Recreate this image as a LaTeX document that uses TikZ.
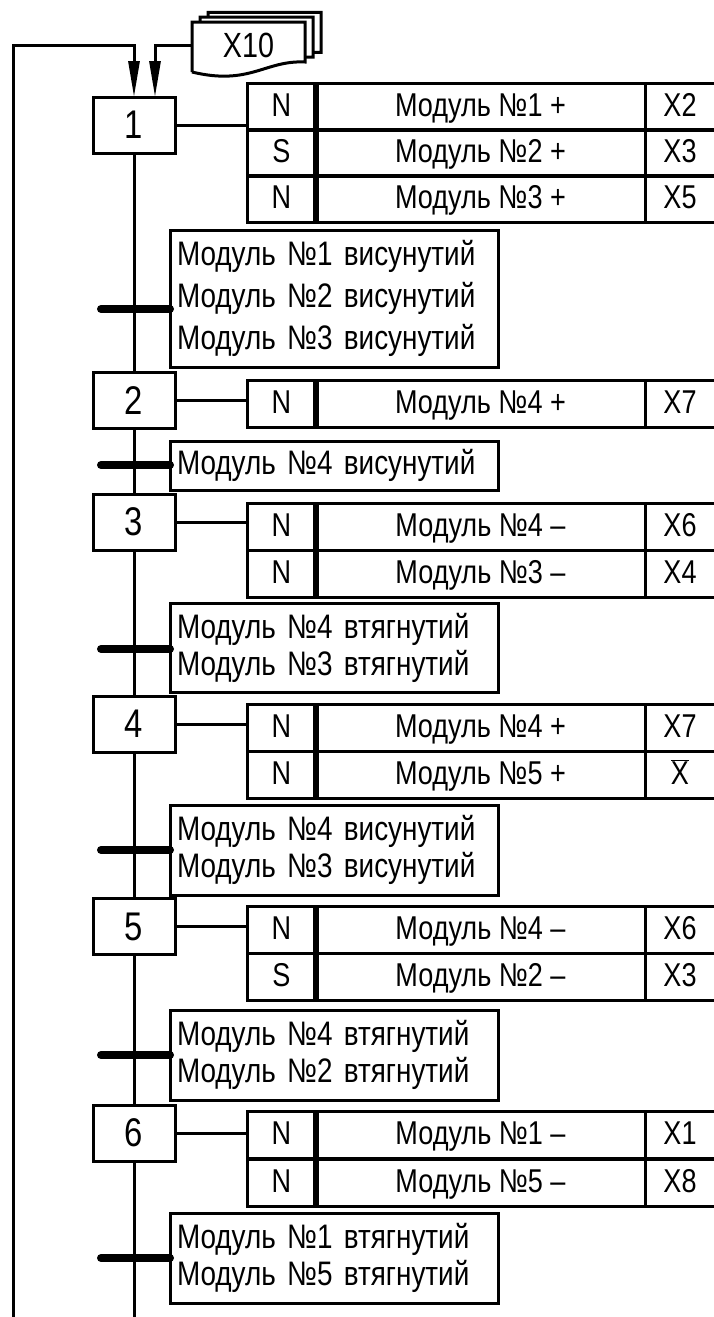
\documentclass[tikz,border=0pt]{standalone}
\usepackage{fontspec}
\setmainfont{Liberation Sans}[FakeStretch=0.82]
\usetikzlibrary{arrows.meta,positioning,calc}

\begin{document}
\begin{tikzpicture}[x=1pt,y=-1pt,line width=3pt,
      font=\fontsize{34}{37}\selectfont,
      stp/.style={draw,line width=3pt,minimum width=82,minimum height=56,
                  inner sep=0pt,outer sep=0pt,font=\fontsize{40}{40}\selectfont},
      qual/.style={draw,line width=3pt,minimum width=69,minimum height=47,
                   inner sep=0pt,outer sep=0pt,anchor=north west,
                   text height=24pt,text depth=5pt,
                   font=\fontsize{33}{36}\selectfont},
      act/.style={qual,minimum width=329},
      var/.style={qual,minimum width=70},
      trans/.style={draw,line width=3pt,anchor=north west,minimum width=328,
                    text width=314,align=left,inner xsep=7pt,inner ysep=0pt,
                    outer sep=0pt},
      bar/.style={line width=8pt,line cap=round},
      arr/.style={-{Triangle[length=36pt,width=11pt]}},
      page/.style={draw,line width=3pt,fill=white}]
  \useasboundingbox (0,0) rectangle (713,1317);
  % X10 stack
  \foreach \d in {16,8,0}{
    \draw[page,shift={(\d,-\d*0.6)}] (192,72) -- (192,22) -- (305,22) -- (305,62)
      .. controls (265,60) and (250,86) .. (192,72);}
  \node[minimum width=113,minimum height=46,inner sep=0pt,
        font=\fontsize{35}{36}\selectfont] (x10) at (248.5,45) {X10};
  % steps
  \foreach \n/\y in {1/125,2/400.5,3/522,4/724,5/926.5,6/1133}{
    \node[stp] (s\n) at (134,\y) {\n};}
  % action tables
  \foreach \r/\y/\q/\a/\v in {11/83/N/Модуль №1 +/X2, 12/129/S/Модуль №2 +/X3,
      13/175/N/Модуль №3 +/X5, 21/380/N/Модуль №4 +/X7,
      31/503/N/Модуль №4 –/X6, 32/550/N/Модуль №3 –/X4,
      41/704/N/Модуль №4 +/X7, 42/751/N/Модуль №5 +/$\overline{\hbox{X}}$,
      51/906/N/Модуль №4 –/X6, 52/953/S/Модуль №2 –/X3,
      61/1111/N/Модуль №1 –/X1, 62/1159/N/Модуль №5 –/X8}{
    \node[qual] (q\r) at (247,\y) {\q};
    \node[act,right=0pt of q\r] (a\r) {\a};
    \node[var,right=0pt of a\r] (v\r) {\v};}
  \foreach \a/\b in {11/13,21/21,31/32,41/42,51/52,61/62}{
    \draw[line width=6pt] (q\a.north east) -- (q\b.south east);}
  % links step -> table
  \foreach \n in {1,2,3,4,5,6}{
    \draw (s\n.east) -- (s\n.east -| q\n1.west);}
  % transitions
  \node[trans,minimum height=137,font=\fontsize{34}{42}\selectfont] (t1) at (170,230)
    {Модуль №1 висунутий\\Модуль №2 висунутий\\Модуль №3 висунутий};
  \node[trans,minimum height=49] (t2) at (170,441) {Модуль №4 висунутий};
  \node[trans,minimum height=89] (t3) at (170,603)
    {Модуль №4 втягнутий\\Модуль №3 втягнутий};
  \node[trans,minimum height=90] (t4) at (170,805)
    {Модуль №4 висунутий\\Модуль №3 висунутий};
  \node[trans,minimum height=90] (t5) at (170,1010)
    {Модуль №4 втягнутий\\Модуль №2 втягнутий};
  \node[trans,minimum height=90] (t6) at (170,1213)
    {Модуль №1 втягнутий\\Модуль №5 втягнутий};
  \foreach \n/\y in {1/309,2/465,3/649,4/850,5/1055,6/1258}{
    \coordinate (b\n) at (101,\y);
    \draw[bar] (b\n) -- (b\n -| t\n.west);}
  % main line
  \coordinate (end) at (134,1322);
  \draw (s1.south) -- (s2.north) (s2.south) -- (s3.north) (s3.south) -- (s4.north)
    (s4.south) -- (s5.north) (s5.south) -- (s6.north) (s6.south) -- (end);
  % inputs of step 1
  \coordinate (ret) at (13,1322);
  \coordinate (top1) at (134,45);
  \coordinate (in2) at ([xshift=21pt]s1.north);
  \draw[arr] (ret) |- (top1) -- (s1.north);
  \draw[arr] (x10.west) -| (in2);
\end{tikzpicture}
\end{document}
